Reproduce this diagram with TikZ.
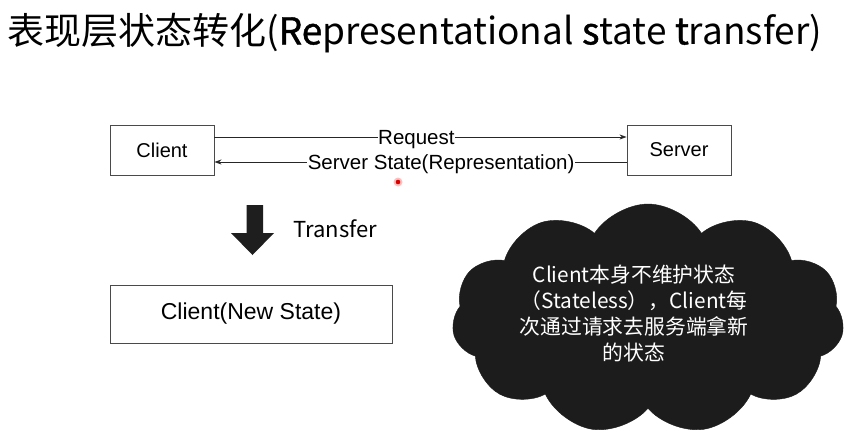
\documentclass[tikz,border=0pt]{standalone}
\usepackage{fontspec}
\setmainfont{Liberation Sans}
\newfontfamily\cjk{Noto Sans CJK SC}
\newfontfamily\cjkbold[FakeBold=1.2]{Noto Sans CJK SC}
\usetikzlibrary{shapes.symbols,arrows.meta,calc}
\definecolor{boxline}{HTML}{4A4A4A}
\definecolor{cloudfill}{HTML}{1C1C1C}
\definecolor{bigarrow}{HTML}{1E1E1E}
\tikzset{
  boxnode/.style={draw=boxline, line width=0.9pt, fill=white, inner sep=0pt},
  boxtext/.style={font=\fontsize{20}{24}\selectfont},
  conn/.style={line width=0.8pt, draw=black!85, -{Stealth[length=7pt,width=5pt]}},
  connlabel/.style={fill=white, inner sep=0.5pt, text height=14.6pt, text depth=0pt, font=\fontsize{20.5}{24}\selectfont},
}
\begin{document}
\begin{tikzpicture}[x=1pt,y=-1pt]
\useasboundingbox (0,0) rectangle (851,437);
\fill[white] (0,0) rectangle (851,437);
% title
\node[anchor=west, inner sep=0pt, font=\cjk\fontsize{37}{40}\selectfont] (title) at (7,33)
  {表现层状态转化({\cjkbold Re}presentational {\cjkbold s}tate {\cjkbold t}ransfer)};
% boxes
\node[boxnode, boxtext, minimum width=104pt, minimum height=50pt] (client) at (162,150) {Client};
\node[boxnode, boxtext, minimum width=104pt, minimum height=50pt] (server) at (679,150) {Server};
\node[boxnode, font=\fontsize{23}{26}\selectfont, minimum width=282pt, minimum height=58pt] (newclient) at (251,314) {Client(New State)};
% connectors
\draw[conn] ([yshift=13pt]client.east) -- node[connlabel, pos=0.49] (req) {Request} ([yshift=13pt]server.west);
\draw[conn] ([yshift=-12pt]server.west) -- node[connlabel, pos=0.45] (rep) {Server State(Representation)} ([yshift=-12pt]client.west -| client.east);
% red pointer dot
\fill[red!25] (398,182) circle (4.5);
\fill[red!85!black] (398,182) circle (2.3);
% transfer arrow
\fill[bigarrow] (246.5,205) -- (263,205) -- (263,233) -- (274,233) -- (252.5,255) -- (231,233) -- (246.5,233) -- cycle;
\node[anchor=west, inner sep=0pt, font=\cjk\fontsize{22}{24}\selectfont] (transfer) at (293,229) {Transfer};
% cloud
\node[cloud, cloud puffs=11, cloud puff arc=115, aspect=1.7, fill=cloudfill, draw=cloudfill,
      minimum width=392pt, minimum height=230pt, inner sep=0pt] (cloud) at (648,319) {};
\node[text=white, align=center, font=\cjk\fontsize{20.8}{26}\selectfont, inner sep=0pt] (cloudtext) at (634,314)
  {Client本身不维护状态\\（Stateless），Client每\\次通过请求去服务端拿新\\的状态};
\end{tikzpicture}
\end{document}
